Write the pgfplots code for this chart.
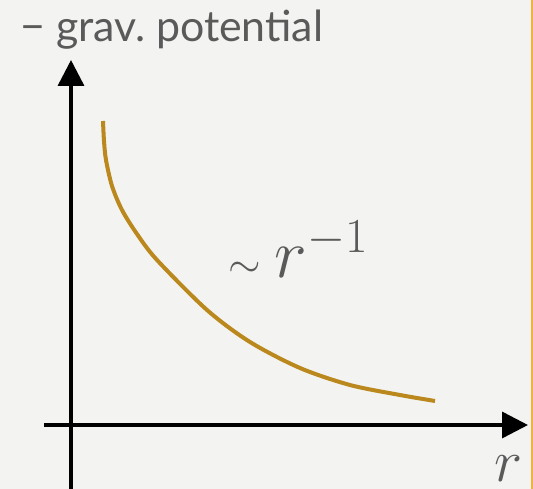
\documentclass[border=0pt]{standalone}
\usepackage{fix-cm}
\usepackage{fontspec}
\setmainfont{Lato}
\usepackage{pgfplots}
\pgfplotsset{compat=1.18}
\usetikzlibrary{arrows.meta}
\definecolor{bgcol}{RGB}{243,243,241}
\definecolor{curvecol}{RGB}{186,136,28}
\definecolor{txtcol}{RGB}{90,90,90}
\definecolor{edgecol}{RGB}{242,179,61}
\begin{document}
\begin{tikzpicture}
\useasboundingbox (0,0) rectangle (533bp,489bp);
\fill[bgcol] (0,0) rectangle (533bp,489bp);
\draw[edgecol, line width=1.5bp] (531.75bp,0) -- (531.75bp,489bp);
\begin{axis}[
  at={(71bp,64bp)}, anchor=origin,
  x=1bp, y=1bp,
  xmin=-27, xmax=457, ymin=-64, ymax=365,
  axis lines=middle,
  axis line style={line width=3.5bp, -{Triangle[length=26bp,width=26bp]}},
  xtick=\empty, ytick=\empty,
  clip=false,
]
\addplot[curvecol, line width=4bp, smooth, line cap=butt] coordinates {
(32,304) (33,284) (35,265) (41,239) (51,215) (66,191) (86,165) (136,115) (179,83) (229,57) (279,40) (329,30) (364,24)
};
\node[anchor=base west, inner sep=0pt, text=txtcol, font=\fontsize{43}{47}\selectfont] at (axis cs:-51,383) {− grav.\ potential};
\node[anchor=base west, inner sep=0pt, text=txtcol, font=\fontsize{70}{76}\selectfont] at (axis cs:157,147) {{\fontsize{42}{46}\selectfont$\sim$}\hspace{14bp}$r^{-1}$};
\node[anchor=base west, inner sep=0pt, text=txtcol, font=\fontsize{60}{66}\selectfont] at (axis cs:423,-57) {$r$};
\end{axis}
\end{tikzpicture}
\end{document}
